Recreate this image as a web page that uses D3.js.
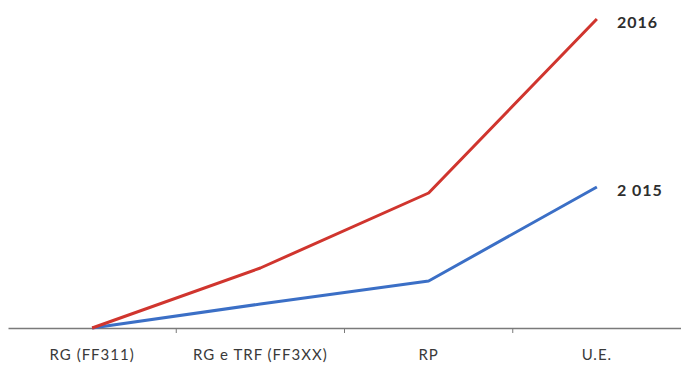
<!DOCTYPE html>
<html>
<head>
<meta charset="utf-8">
<script src="https://cdn.jsdelivr.net/npm/d3@7"></script>
<style>
  body { margin: 0; background: #fff; }
  text { font-family: Lato, "Open Sans", sans-serif; }
</style>
</head>
<body>
<div class="chart-container"></div>
<script>
//! CONSTS
const WIDTH = 681
const HEIGHT = 366
const BASE_Y = 328
const TOP_Y = 19

//! DATA
const categories = ['RG (FF311)', 'RG e TRF (FF3XX)', 'RP', 'U.E.']
const values2016 = [0, 60, 135, 309]
const values2015 = [0, 24, 47, 141]
const seriesNames = ['2016', '2 015']
const seriesColors = ['#d0352e', '#3b6fc6']

//! SVG
const svg = d3.select('.chart-container')
  .append('svg')
  .attr('width', WIDTH)
  .attr('height', HEIGHT)

//! SCALES
const xScale = d3.scaleBand()
  .domain(categories)
  .range([8, 681])

const yScale = d3.scaleLinear()
  .domain([0, d3.max(values2016)])
  .range([BASE_Y, TOP_Y])

//! AXIS
const xAxis = d3.axisBottom(xScale)
  .tickSize(0)
  .tickPadding(21)

const gx = svg.append('g')
  .attr('transform', `translate(0,${BASE_Y})`)
  .call(xAxis)
gx.select('.domain').attr('stroke', '#7a7a7a').attr('stroke-width', 1.5)
gx.selectAll('text')
  .attr('font-size', 15)
  .attr('letter-spacing', 1)
  .attr('fill', '#3a3a3a')

// tick marks between categories
svg.append('g')
  .selectAll('line')
  .data(categories.slice(1))
  .enter()
  .append('line')
  .attr('x1', d => xScale(d))
  .attr('x2', d => xScale(d))
  .attr('y1', BASE_Y)
  .attr('y2', BASE_Y + 5)
  .attr('stroke', '#7a7a7a')
  .attr('stroke-width', 1)

//! LINES
const line = d3.line()
  .x((d, i) => xScale(categories[i]) + xScale.bandwidth() / 2)
  .y(d => yScale(d))

const series = [values2015, values2016]
const names = [seriesNames[1], seriesNames[0]]
const colors = [seriesColors[1], seriesColors[0]]

svg.selectAll('.series')
  .data(series)
  .enter()
  .append('path')
  .attr('class', 'series')
  .attr('d', d => line(d))
  .attr('fill', 'none')
  .attr('stroke', (d, i) => colors[i])
  .attr('stroke-width', 3)
  .attr('stroke-linejoin', 'round')

// labels at line ends
svg.selectAll('.label')
  .data(series)
  .enter()
  .append('text')
  .attr('class', 'label')
  .attr('x', xScale(categories[3]) + xScale.bandwidth() / 2 + 20)
  .attr('y', d => yScale(d[d.length - 1]) + 9)
  .attr('font-size', 16)
  .attr('font-weight', 'bold')
  .attr('letter-spacing', 1)
  .attr('fill', '#2e2e2e')
  .text((d, i) => names[i])
</script>
</body>
</html>
